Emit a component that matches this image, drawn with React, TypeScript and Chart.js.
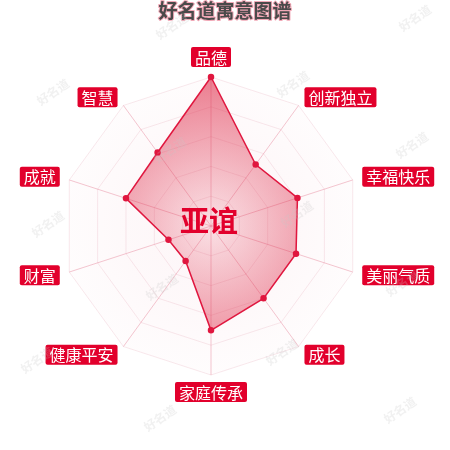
import React, { useEffect, useRef } from "react";
import { Chart, registerables } from "chart.js";

Chart.register(...registerables);

const categories = ["品德", "创新独立", "幸福快乐", "美丽气质", "成长", "家庭传承", "健康平安", "财富", "成就", "智慧"];
const values = [100, 51, 61, 60, 60, 70, 29, 30, 60, 61];
const titleText = "好名道寓意图谱";
const centerName = "亚谊";
const watermarkText = "好名道";
const watermarkSpots: [number, number][] = [
  [172, 26], [415, 18], [53, 92], [293, 84], [170, 150], [412, 145],
  [48, 224], [297, 214], [162, 287], [402, 283], [37, 360], [282, 352],
  [160, 418], [400, 410],
];

const FONT = '"Noto Sans CJK SC", "Noto Sans", sans-serif';
const RED = "#e2002c";

function roundRect(ctx: CanvasRenderingContext2D, x: number, y: number, w: number, h: number, r: number) {
  ctx.beginPath();
  ctx.moveTo(x + r, y);
  ctx.lineTo(x + w - r, y);
  ctx.quadraticCurveTo(x + w, y, x + w, y + r);
  ctx.lineTo(x + w, y + h - r);
  ctx.quadraticCurveTo(x + w, y + h, x + w - r, y + h);
  ctx.lineTo(x + r, y + h);
  ctx.quadraticCurveTo(x, y + h, x, y + h - r);
  ctx.lineTo(x, y + r);
  ctx.quadraticCurveTo(x, y, x + r, y);
  ctx.closePath();
}

const decorPlugin = {
  id: "decor",
  beforeDraw(chart: any) {
    const { ctx, width } = chart;
    ctx.save();
    ctx.fillStyle = "#ffffff";
    ctx.fillRect(0, 0, chart.width, chart.height);
    ctx.restore();
    // title
    ctx.save();
    ctx.font = `bold 19px ${FONT}`;
    ctx.textAlign = "center";
    ctx.textBaseline = "middle";
    ctx.lineJoin = "round";
    ctx.strokeStyle = "rgba(240,160,175,0.9)";
    ctx.lineWidth = 2;
    ctx.strokeText(titleText, width / 2, 11);
    ctx.fillStyle = "#4a4a4a";
    ctx.fillText(titleText, width / 2, 11);
    ctx.restore();
  },
  beforeDatasetsDraw(chart: any) {
    const s = chart.scales.r;
    if (!s) return;
    const { ctx } = chart;
    ctx.save();
    const g = ctx.createRadialGradient(s.xCenter, s.yCenter, 0, s.xCenter, s.yCenter, s.drawingArea);
    g.addColorStop(0, "rgba(240,175,190,0.12)");
    g.addColorStop(0.6, "rgba(240,175,190,0.08)");
    g.addColorStop(1, "rgba(240,175,190,0.03)");
    ctx.fillStyle = g;
    ctx.beginPath();
    const n = categories.length;
    for (let i = 0; i < n; i++) {
      const p = s.getPointPosition(i, s.drawingArea);
      if (i === 0) ctx.moveTo(p.x, p.y);
      else ctx.lineTo(p.x, p.y);
    }
    ctx.closePath();
    ctx.fill();
    ctx.restore();
  },
  afterDraw(chart: any) {
    const s = chart.scales.r;
    if (!s) return;
    const { ctx } = chart;
    // center name
    ctx.save();
    ctx.font = `bold 29px ${FONT}`;
    ctx.textAlign = "center";
    ctx.textBaseline = "middle";
    ctx.fillStyle = RED;
    ctx.fillText(centerName, s.xCenter - 2, s.yCenter - 5);
    ctx.restore();
    // point labels
    ctx.save();
    ctx.font = `16px ${FONT}`;
    ctx.textBaseline = "middle";
    ctx.textAlign = "left";
    const n = categories.length;
    for (let i = 0; i < n; i++) {
      const ang = (i * 2 * Math.PI) / n;
      const sin = Math.sin(ang);
      const cos = Math.cos(ang);
      const gap = i === n / 2 ? 7 : 10;
      const p = s.getPointPosition(i, s.drawingArea + gap);
      const tw = ctx.measureText(categories[i]).width;
      const bw = tw + 8;
      const bh = 20;
      let bx: number;
      let by: number;
      if (Math.abs(sin) < 0.01) bx = p.x - bw / 2;
      else if (sin > 0) bx = p.x;
      else bx = p.x - bw;
      if (Math.abs(sin) < 0.01) by = cos > 0 ? p.y - bh : p.y;
      else by = p.y - bh / 2;
      ctx.fillStyle = RED;
      roundRect(ctx, bx, by, bw, bh, 2);
      ctx.fill();
      ctx.fillStyle = "#ffffff";
      ctx.fillText(categories[i], bx + 4, by + bh / 2 + 0.5);
    }
    ctx.restore();
    // watermarks
    ctx.save();
    ctx.font = `bold 12px ${FONT}`;
    ctx.fillStyle = "rgba(200,200,200,0.25)";
    ctx.textAlign = "center";
    ctx.textBaseline = "middle";
    for (const [x, y] of watermarkSpots) {
      ctx.save();
      ctx.translate(x, y);
      ctx.rotate(-0.6);
      ctx.fillText(watermarkText, 0, 0);
      ctx.restore();
    }
    ctx.restore();
  },
};

export default function App() {
  const ref = useRef<HTMLCanvasElement>(null);
  useEffect(() => {
    document.body.style.margin = "0";
    const chart = new Chart(ref.current as HTMLCanvasElement, {
      type: "radar",
      data: {
        labels: categories,
        datasets: [
          {
            data: values,
            borderColor: "#e0173f",
            borderWidth: 1.5,
            pointRadius: 2.5,
            pointBackgroundColor: "#e0173f",
            pointBorderColor: "#e0173f",
            backgroundColor: (c: any) => {
              const chart = c.chart;
              const s = chart.scales?.r;
              if (!s || !chart.chartArea) return "rgba(222,40,70,0.45)";
              const g = chart.ctx.createRadialGradient(s.xCenter, s.yCenter, 0, s.xCenter, s.yCenter, s.drawingArea);
              g.addColorStop(0, "rgba(222,40,70,0.1)");
              g.addColorStop(1, "rgba(222,40,70,0.6)");
              return g;
            },
            fill: true,
          },
        ],
      },
      options: {
        animation: false,
        responsive: false,
        maintainAspectRatio: false,
        layout: { padding: { top: 77, bottom: 75, left: 62, right: 90 } },
        plugins: { legend: { display: false }, tooltip: { enabled: false }, title: { display: false } },
        scales: {
          r: {
            min: 0,
            max: 100,
            ticks: { display: false, stepSize: 20 },
            grid: { color: "rgba(235,190,200,0.35)", lineWidth: 1, borderDash: [1, 3] },
            angleLines: { color: "rgba(232,140,160,0.5)", lineWidth: 1 },
            pointLabels: { display: false },
          },
        },
      },
      plugins: [decorPlugin],
    } as any);
    return () => chart.destroy();
  }, []);
  return (
    <div style={{ position: "absolute", left: 0, top: 0, width: 450, height: 450 }}>
      <canvas ref={ref} width={450} height={450} style={{ width: 450, height: 450 }} />
    </div>
  );
}
